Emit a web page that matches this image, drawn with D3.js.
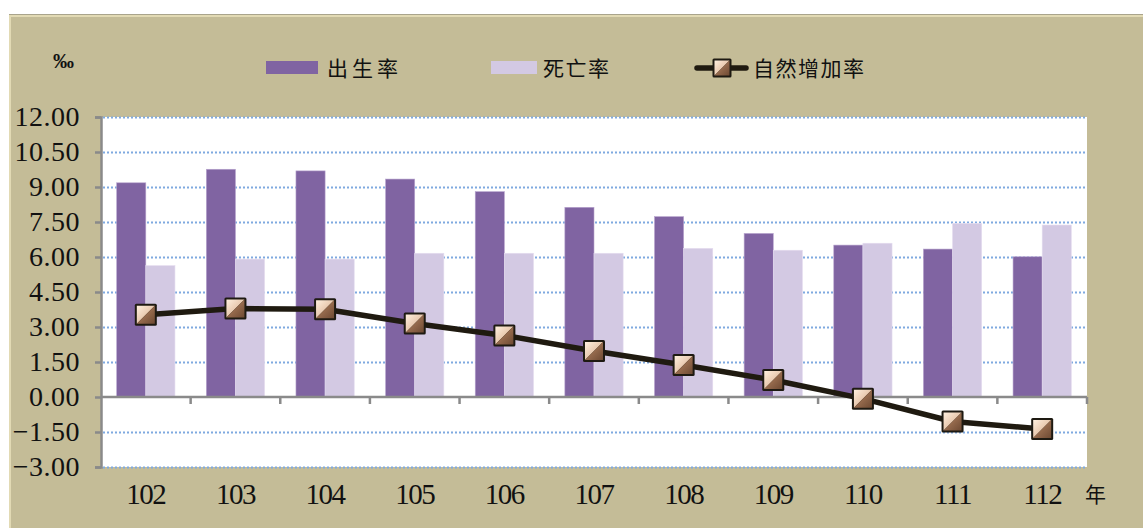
<!DOCTYPE html>
<html>
<head>
<meta charset="utf-8">
<script src="https://cdn.jsdelivr.net/npm/d3@7"></script>
<style>
  html, body { margin: 0; padding: 0; background: #ffffff; }
  svg { display: block; }
</style>
</head>
<body>
<svg id="chart" width="1143" height="528"></svg>
<script>
// ---- data ----
const categories = ["102", "103", "104", "105", "106", "107", "108", "109", "110", "111", "112"];
const birthRate = [9.18, 9.76, 9.69, 9.34, 8.80, 8.13, 7.73, 7.01, 6.51, 6.34, 6.01];
const deathRate = [5.63, 5.91, 5.91, 6.16, 6.16, 6.16, 6.37, 6.29, 6.59, 7.44, 7.37];
const naturalRate = [3.52, 3.79, 3.76, 3.15, 2.64, 1.97, 1.37, 0.73, -0.07, -1.05, -1.37];
const yTicks = [-3, -1.5, 0, 1.5, 3, 4.5, 6, 7.5, 9, 10.5, 12];
const seriesNames = ["出生率", "死亡率", "自然增加率"];
const unitLabel = "‰";
const xUnitLabel = "年";

// ---- layout ----
const svg = d3.select("#chart");
const W = 1143, H = 528;
const plot = { left: 101, right: 1087, top: 117, bottom: 467 };
const colors = { birth: "#8064A2", death: "#D3C9E3", line: "#1F1A10", panel: "#C4BC97", grid: "#7FA9E0", axis: "#8A8A8A" };

const defs = svg.append("defs");
const g1 = defs.append("linearGradient").attr("id", "mkLight").attr("x1", "0").attr("y1", "0").attr("x2", "1").attr("y2", "1");
g1.append("stop").attr("offset", "0%").attr("stop-color", "#FFF0DF");
g1.append("stop").attr("offset", "100%").attr("stop-color", "#D2A27F");
const g2 = defs.append("linearGradient").attr("id", "mkDark").attr("x1", "0").attr("y1", "0").attr("x2", "1").attr("y2", "1");
g2.append("stop").attr("offset", "0%").attr("stop-color", "#C08D69");
g2.append("stop").attr("offset", "100%").attr("stop-color", "#6E4A33");

// panel background
svg.append("rect").attr("x", 9).attr("y", 14).attr("width", W - 9).attr("height", H - 14).attr("fill", "#A9A48C");
svg.append("rect").attr("x", 9).attr("y", 15).attr("width", W - 9).attr("height", H - 15).attr("fill", "#E2DAB4");
svg.append("rect").attr("x", 11).attr("y", 17).attr("width", W - 11).attr("height", H - 17).attr("fill", colors.panel);

// plot area
svg.append("rect").attr("x", plot.left).attr("y", plot.top).attr("width", plot.right - plot.left).attr("height", plot.bottom - plot.top).attr("fill", "#ffffff");

const y = d3.scaleLinear().domain([-3, 12]).range([plot.bottom, plot.top]);
const x = d3.scaleBand().domain(categories).range([plot.left, plot.right]).paddingInner(0.35).paddingOuter(0.175);
const xs = d3.scaleBand().domain(["b", "d"]).range([0, x.bandwidth()]);

// grid lines
svg.append("g").selectAll("line").data(yTicks.filter(v => v !== 0)).join("line")
  .attr("x1", plot.left + 2).attr("x2", plot.right)
  .attr("y1", d => Math.round(y(d)) + 0.5).attr("y2", d => Math.round(y(d)) + 0.5)
  .attr("stroke", colors.grid).attr("stroke-width", 2).attr("stroke-dasharray", "2,2");

// bars
const groups = svg.append("g").selectAll("g").data(categories).join("g")
  .attr("transform", d => `translate(${x(d)},0)`);
groups.append("rect")
  .attr("x", xs("b")).attr("width", xs.bandwidth())
  .attr("y", (d, i) => y(birthRate[i])).attr("height", (d, i) => y(0) - y(birthRate[i]))
  .attr("fill", colors.birth).attr("stroke", "#B7A4CE").attr("stroke-width", 0.6);
groups.append("rect")
  .attr("x", xs("d")).attr("width", xs.bandwidth())
  .attr("y", (d, i) => y(deathRate[i])).attr("height", (d, i) => y(0) - y(deathRate[i]))
  .attr("fill", colors.death).attr("stroke", "#E4DCEF").attr("stroke-width", 0.6);

// axes
const yAxis = d3.axisLeft(y).tickValues(yTicks).tickSize(6).tickFormat(d3.format(".2f"));
const yg = svg.append("g").attr("transform", `translate(${plot.left},0)`).call(yAxis);
yg.select(".domain").attr("stroke", colors.axis).attr("stroke-width", 2.5);
yg.selectAll(".tick line").attr("stroke", colors.axis).attr("stroke-width", 2.5);
yg.selectAll(".tick text").attr("x", -21)
  .attr("font-family", "'Liberation Serif', 'DejaVu Serif', serif").attr("font-size", 28)
  .attr("fill", "#111").attr("letter-spacing", "0.5px")
  .text(d => d3.format(".2f")(d).replace("-", "−"));

// x axis line at zero with boundary ticks
const xBounds = d3.range(categories.length + 1).map(i => plot.left + i * x.step());
svg.append("line").attr("x1", plot.left).attr("x2", plot.right).attr("y1", y(0)).attr("y2", y(0))
  .attr("stroke", colors.axis).attr("stroke-width", 2.5);
svg.append("g").selectAll("line").data(xBounds.slice(1)).join("line")
  .attr("x1", d => d).attr("x2", d => d).attr("y1", y(0)).attr("y2", y(0) + 7)
  .attr("stroke", colors.axis).attr("stroke-width", 2.5);

// x labels
svg.append("g").selectAll("text").data(categories).join("text")
  .attr("x", d => x(d) + x.bandwidth() / 2).attr("y", 504)
  .attr("text-anchor", "middle")
  .attr("font-family", "'Liberation Serif', 'DejaVu Serif', serif").attr("font-size", 29)
  .attr("letter-spacing", "-1.5px").attr("fill", "#111").text(d => d);
svg.append("text").attr("x", 1085).attr("y", 502)
  .attr("font-family", "'Noto Sans CJK TC', sans-serif").attr("font-size", 21).attr("fill", "#111").text(xUnitLabel);

// line series
const pts = categories.map((c, i) => [x(c) + x.bandwidth() / 2, y(naturalRate[i])]);
svg.append("path").attr("d", d3.line()(pts)).attr("fill", "none")
  .attr("stroke", colors.line).attr("stroke-width", 5.5).attr("stroke-linejoin", "round");

function marker(sel, cx, cy, s) {
  const gm = sel.append("g").attr("transform", `translate(${cx - s / 2},${cy - s / 2})`);
  gm.append("rect").attr("x", -2).attr("y", -2).attr("width", s + 4).attr("height", s + 4).attr("fill", "#1E1A12").attr("rx", 1.5);
  gm.append("path").attr("d", `M0,0 L${s},0 L0,${s} Z`).attr("fill", "url(#mkLight)");
  gm.append("path").attr("d", `M${s},0 L${s},${s} L0,${s} Z`).attr("fill", "url(#mkDark)");
}
const mg = svg.append("g");
pts.forEach(p => marker(mg, p[0], p[1], 18));

// legend
const lg = svg.append("g");
const legendFont = "'Noto Sans CJK TC', 'Noto Sans CJK SC', sans-serif";
lg.append("rect").attr("x", 266).attr("y", 61).attr("width", 52).attr("height", 13).attr("fill", colors.birth);
lg.append("text").attr("x", 327).attr("y", 76).attr("font-family", legendFont).attr("font-size", 21)
  .attr("letter-spacing", "4px").attr("fill", "#111").text(seriesNames[0]);
lg.append("rect").attr("x", 491).attr("y", 61).attr("width", 46).attr("height", 13).attr("fill", colors.death);
lg.append("text").attr("x", 543).attr("y", 76).attr("font-family", legendFont).attr("font-size", 21)
  .attr("letter-spacing", "1.5px").attr("fill", "#111").text(seriesNames[1]);
lg.append("line").attr("x1", 697).attr("x2", 746).attr("y1", 68).attr("y2", 68)
  .attr("stroke", colors.line).attr("stroke-width", 5.5).attr("stroke-linecap", "round");
marker(lg, 722, 68, 15);
lg.append("text").attr("x", 753).attr("y", 76).attr("font-family", legendFont).attr("font-size", 21)
  .attr("letter-spacing", "1.5px").attr("fill", "#111").text(seriesNames[2]);

// unit label
svg.append("text").attr("x", 53).attr("y", 68).attr("font-family", "'Liberation Serif', serif")
  .attr("font-size", 21).attr("font-weight", "bold").attr("fill", "#111").text(unitLabel);
</script>
</body>
</html>
